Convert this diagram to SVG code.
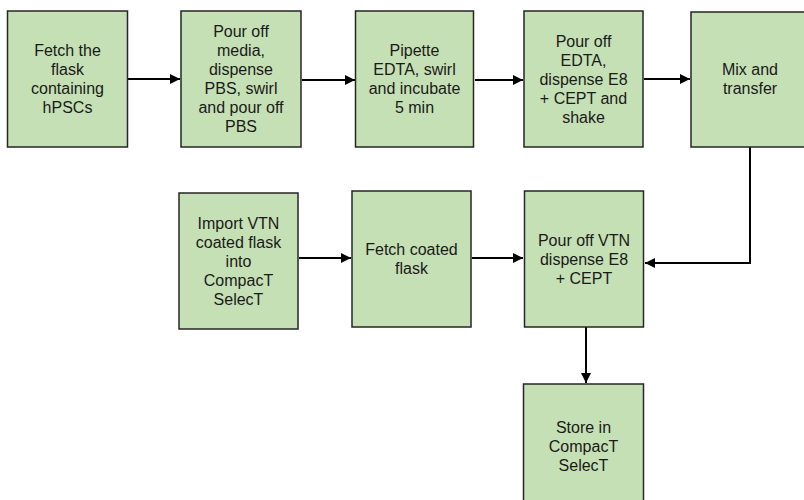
<svg xmlns="http://www.w3.org/2000/svg" width="804" height="500" viewBox="0 0 804 500">
<defs>
<style>
.box{fill:#C5E0B4;stroke:#262626;stroke-width:1.5}
.t{font-family:"Liberation Sans",Arial,sans-serif;font-size:16px;fill:#1a1a1a;text-anchor:middle}
.c{fill:none;stroke:#000;stroke-width:2}
</style>
<marker id="ah" viewBox="0 0 10 10" refX="10" refY="5" markerWidth="5" markerHeight="5" orient="auto" markerUnits="strokeWidth">
<path d="M0,0 L10,5 L0,10 z" fill="#000"/>
</marker>
</defs>
<rect width="804" height="500" fill="#fff"/>
<g id="connectors">
<path class="c" d="M128,79 H180" marker-end="url(#ah)"/>
<path class="c" d="M302,80 H355" marker-end="url(#ah)"/>
<path class="c" d="M475,80 H523" marker-end="url(#ah)"/>
<path class="c" d="M644,79 H690" marker-end="url(#ah)"/>
<path class="c" d="M750,147 V263 H645" marker-end="url(#ah)"/>
<path class="c" d="M299,258 H351" marker-end="url(#ah)"/>
<path class="c" d="M472,258 H523" marker-end="url(#ah)"/>
<path class="c" d="M586,327 V383" marker-end="url(#ah)"/>
</g>
<g id="n1">
<rect class="box" x="7.5" y="11" width="120" height="136"/>
<text class="t" x="67.5" y="56">Fetch the</text>
<text class="t" x="67.5" y="75">flask</text>
<text class="t" x="67.5" y="94">containing</text>
<text class="t" x="67.5" y="113">hPSCs</text>
</g>
<g id="n2">
<rect class="box" x="181" y="11" width="120" height="136"/>
<text class="t" x="241" y="37">Pour off</text>
<text class="t" x="241" y="56">media,</text>
<text class="t" x="241" y="75">dispense</text>
<text class="t" x="241" y="94">PBS, swirl</text>
<text class="t" x="241" y="113">and pour off</text>
<text class="t" x="241" y="132">PBS</text>
</g>
<g id="n3">
<rect class="box" x="355.5" y="11" width="118" height="136"/>
<text class="t" x="414.5" y="56">Pipette</text>
<text class="t" x="414.5" y="75">EDTA, swirl</text>
<text class="t" x="414.5" y="94">and incubate</text>
<text class="t" x="414.5" y="113">5 min</text>
</g>
<g id="n4">
<rect class="box" x="524" y="11" width="119" height="136"/>
<text class="t" x="583.5" y="47">Pour off</text>
<text class="t" x="583.5" y="66">EDTA,</text>
<text class="t" x="583.5" y="85">dispense E8</text>
<text class="t" x="583.5" y="104">+ CEPT and</text>
<text class="t" x="583.5" y="123">shake</text>
</g>
<g id="n5">
<rect class="box" x="691" y="12" width="120" height="135"/>
<text class="t" x="750" y="75">Mix and</text>
<text class="t" x="750" y="94">transfer</text>
</g>
<g id="n6">
<rect class="box" x="179" y="193" width="119" height="136"/>
<text class="t" x="238.5" y="229">Import VTN</text>
<text class="t" x="238.5" y="248">coated flask</text>
<text class="t" x="238.5" y="267">into</text>
<text class="t" x="238.5" y="286">CompacT</text>
<text class="t" x="238.5" y="305">SelecT</text>
<!-- -->
</g>
<g id="n7">
<rect class="box" x="352" y="191" width="119" height="136"/>
<text class="t" x="411.5" y="255">Fetch coated</text>
<text class="t" x="411.5" y="274">flask</text>
</g>
<g id="n8">
<rect class="box" x="524.5" y="191" width="119" height="136"/>
<text class="t" x="584" y="246">Pour off VTN</text>
<text class="t" x="584" y="265">dispense E8</text>
<text class="t" x="584" y="284">+ CEPT</text>
</g>
<g id="n9">
<rect class="box" x="523.5" y="384" width="120" height="136"/>
<text class="t" x="583.5" y="433">Store in</text>
<text class="t" x="583.5" y="452">CompacT</text>
<text class="t" x="583.5" y="471">SelecT</text>
</g>
</svg>
